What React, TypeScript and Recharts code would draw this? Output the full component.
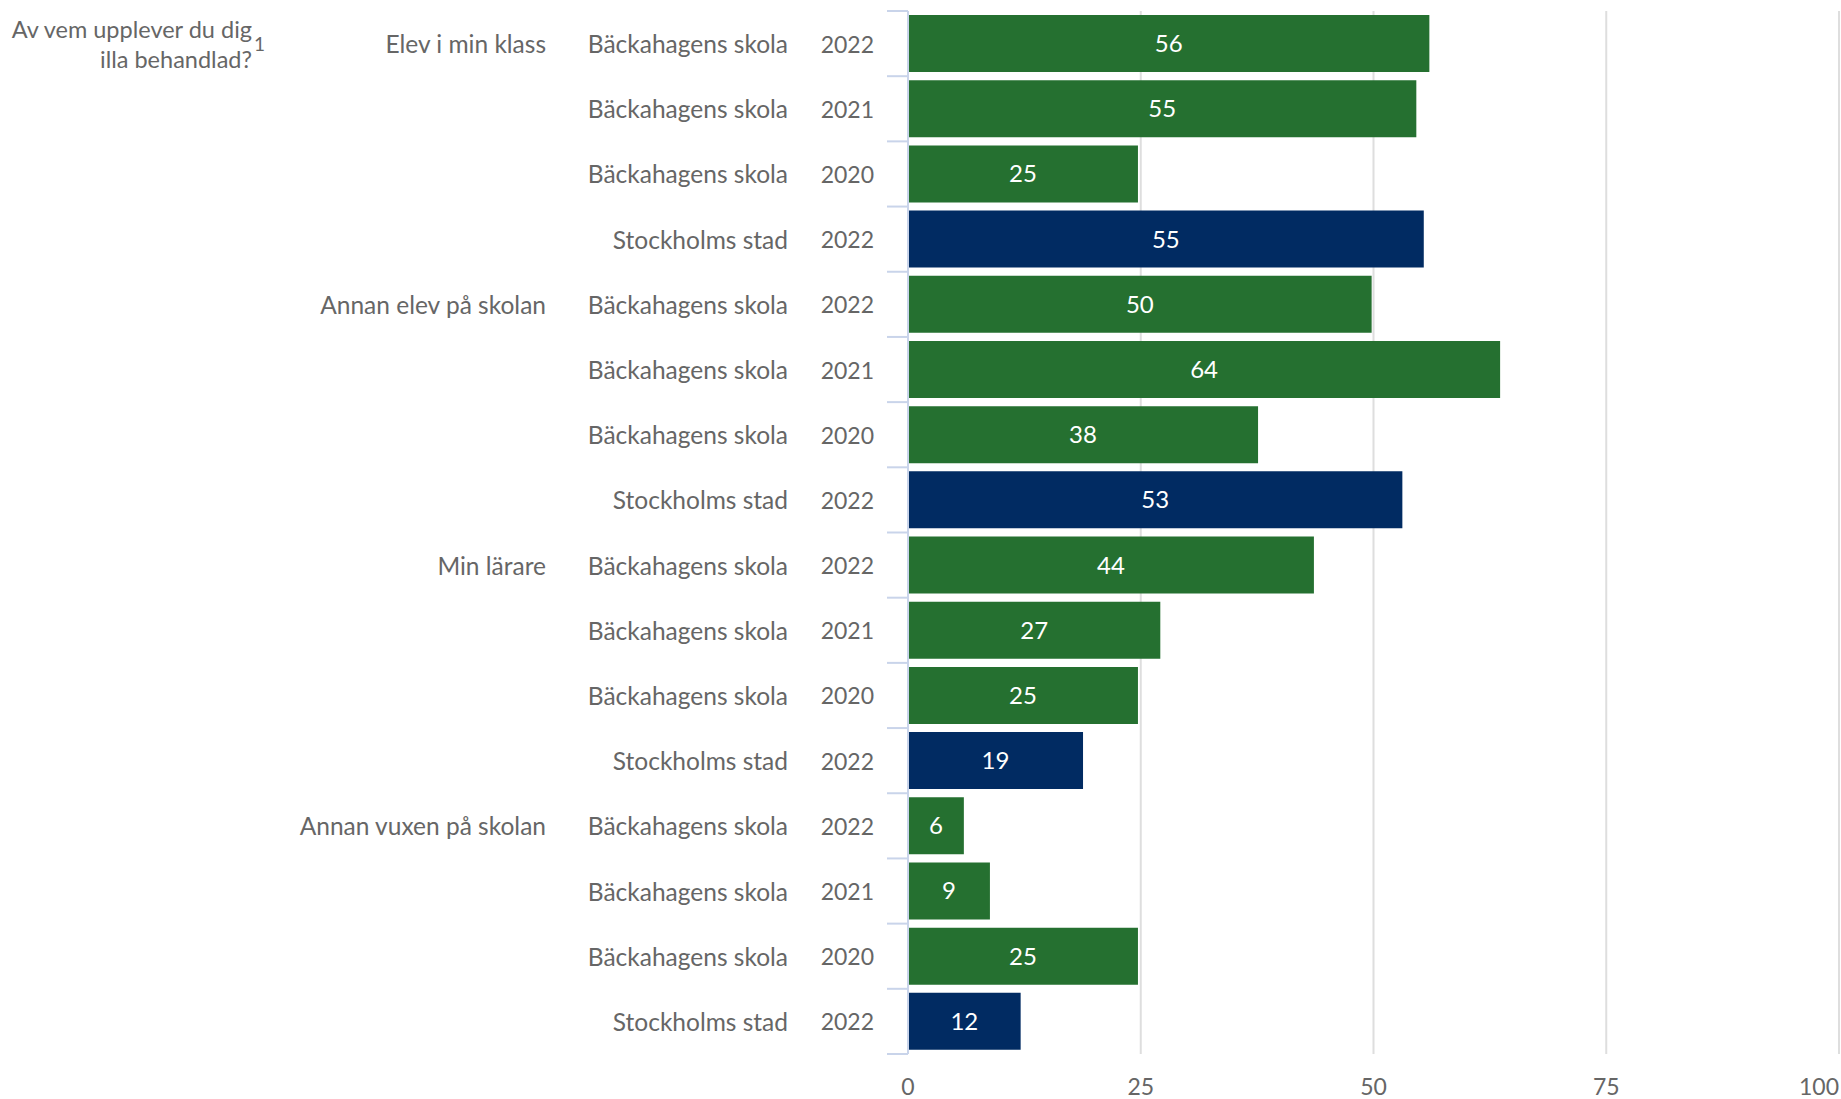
import { BarChart, Bar, XAxis, YAxis, CartesianGrid, Cell, LabelList } from 'recharts';

const groups = ['Elev i min klass', 'Annan elev på skolan', 'Min lärare', 'Annan vuxen på skolan'];
const units = ['Bäckahagens skola', 'Bäckahagens skola', 'Bäckahagens skola', 'Stockholms stad'];
const years = ['2022', '2021', '2020', '2022'];

const elevIMinKlass = [56.0, 54.6, 24.7, 55.4];
const annanElev = [49.8, 63.6, 37.6, 53.1];
const minLarare = [43.6, 27.1, 24.7, 18.8];
const annanVuxen = [6.0, 8.8, 24.7, 12.1];

const groupValues = [elevIMinKlass, annanElev, minLarare, annanVuxen];
const xTicks = [0, 25, 50, 75, 100];

const GREEN = '#257030';
const NAVY = '#012b62';
const TEXT = '#666666';
const FONT = 'Lato, "Noto Sans", sans-serif';

const data = groups.flatMap((g, gi) =>
  units.map((u, ui) => ({
    key: `${gi}-${ui}`,
    group: ui === 0 ? g : '',
    unit: u,
    year: years[ui],
    value: groupValues[gi][ui],
    city: u === 'Stockholms stad',
  }))
);

const W = 1841;
const H = 1099;
const TOP = 11;
const XAXIS_H = 45;
const BAND = (H - TOP - XAXIS_H) / data.length;

function YTick(props: any) {
  const { x, y, index } = props;
  const row = data[index];
  if (!row) return null;
  const top = y - BAND / 2;
  return (
    <g>
      <line x1={x - 21} x2={x} y1={top} y2={top} stroke="#c9d4ea" strokeWidth={2} />
      {index === data.length - 1 && (
        <line x1={x - 21} x2={x} y1={top + BAND} y2={top + BAND} stroke="#c9d4ea" strokeWidth={2} />
      )}
      <text x={x - 34} y={y} textAnchor="end" dominantBaseline="central" fill={TEXT} fontSize={23} fontFamily={FONT}>
        {row.year}
      </text>
      <text x={x - 120} y={y} textAnchor="end" dominantBaseline="central" fill={TEXT} fontSize={24.5} fontFamily={FONT}>
        {row.unit}
      </text>
      {row.group && (
        <text x={x - 362} y={y} textAnchor="end" dominantBaseline="central" fill={TEXT} fontSize={24.5} fontFamily={FONT}>
          {row.group}
        </text>
      )}
    </g>
  );
}

function XTick(props: any) {
  const { x, y, payload, index } = props;
  const last = index === xTicks.length - 1;
  return (
    <text
      x={x}
      y={y + 32}
      textAnchor={last ? 'end' : 'middle'}
      dominantBaseline="central"
      fill={TEXT}
      fontSize={23}
      fontFamily={FONT}
    >
      {payload.value}
    </text>
  );
}

export default function App() {
  return (
    <div style={{ position: 'relative', width: W, height: H, background: '#fff' }}>
      <style>{`body{margin:0}`}</style>
      <BarChart
        width={W}
        height={H}
        data={data}
        layout="vertical"
        margin={{ top: TOP, right: 2, bottom: 0, left: 0 }}
        barSize={57}
      >
        <CartesianGrid horizontal={false} stroke="#dedede" strokeWidth={2} />
        <XAxis
          type="number"
          domain={[0, 100]}
          ticks={xTicks}
          axisLine={false}
          tickLine={false}
          tickSize={0}
          tickMargin={0}
          tick={<XTick />}
          height={XAXIS_H}
          interval={0}
        />
        <YAxis
          type="category"
          dataKey="key"
          width={908}
          axisLine={{ stroke: '#c9d4ea', strokeWidth: 2 }}
          tickLine={false}
          tickSize={0}
          tickMargin={0}
          tick={<YTick />}
          interval={0}
        />
        <Bar dataKey="value" isAnimationActive={false}>
          {data.map((d) => (
            <Cell key={d.key} fill={d.city ? NAVY : GREEN} />
          ))}
          <LabelList
            dataKey="value"
            position="center"
            fill="#ffffff"
            fontSize={24}
            fontFamily={FONT}
            formatter={(v: any) => Math.round(Number(v))}
          />
        </Bar>
      </BarChart>
      <div
        style={{
          position: 'absolute',
          left: 0,
          top: 14,
          width: 252,
          textAlign: 'right',
          fontFamily: FONT,
          fontSize: 23.5,
          lineHeight: '30px',
          color: TEXT,
        }}
      >
        Av vem upplever du dig
        <br />
        illa behandlad?
      </div>
      <div
        style={{
          position: 'absolute',
          left: 254,
          top: 34,
          fontFamily: FONT,
          fontSize: 19,
          lineHeight: '20px',
          color: TEXT,
        }}
      >
        1
      </div>
    </div>
  );
}
